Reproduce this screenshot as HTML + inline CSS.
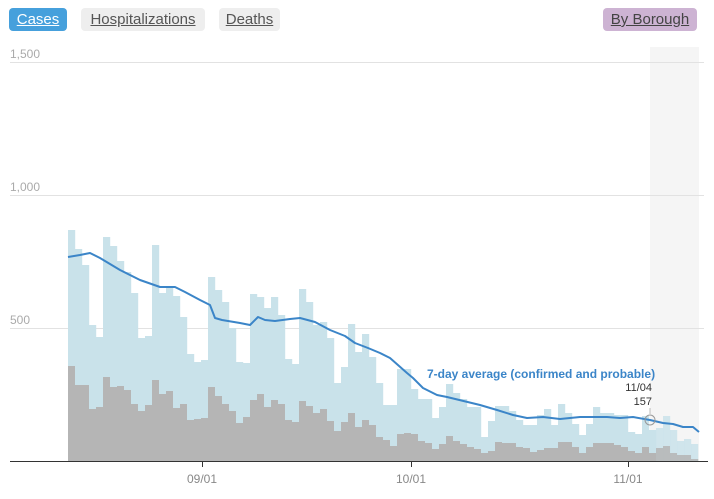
<!DOCTYPE html>
<html><head><meta charset="utf-8"><style>
body{margin:0;background:#fff;font-family:"Liberation Sans",sans-serif;}
.b{position:absolute;top:8px;height:23px;line-height:23px;border-radius:4px;font-size:15px;text-decoration:underline;padding:0 4px;box-sizing:border-box;text-align:center}
</style></head><body>
<div style="position:relative;width:714px;height:499px;overflow:hidden">
<div class="b" style="left:9px;width:58px;background:#46a0dc;color:#fff">Cases</div>
<div class="b" style="left:81px;width:124px;background:#eee;color:#555">Hospitalizations</div>
<div class="b" style="left:219px;width:61px;background:#eee;color:#555">Deaths</div>
<div class="b" style="left:603px;width:94px;background:#cdb3d3;color:#444">By Borough</div>
<svg id="s" width="714" height="499" style="position:absolute;left:0;top:0"></svg>
</div>
<script>
var L=[230,249,265,325,337,237,246,261,272,293,338,336,245,293,287,296,317,354,362,360,277,290,302,328,362,363,294,297,308,297,315,359,364,289,302,325,322,338,383,367,324,352,334,357,383,405,405,369,369,389,399,399,418,407,384,393,399,407,407,437,421,406,406,411,420,425,425,415,409,425,404,413,424,435,424,407,413,413,415,415,432,434,416,430,428,416,430,441,439,444];
var G=[366,385,385,409,407,377,387,386,390,404,411,405,380,394,391,408,404,420,419,418,387,396,404,411,423,417,400,394,407,400,404,420,422,401,406,413,409,421,431,422,413,427,420,425,437,440,446,434,433,434,441,443,449,444,436,441,444,447,449,453,451,442,443,443,447,448,452,450,448,448,442,442,447,453,447,443,443,443,445,447,451,453,447,453,448,446,453,455,455,459];
var s='<rect x="650" y="47" width="49" height="414" fill="#f5f5f5"/>';
[62,195,328].forEach(function(y){s+='<line x1="10" x2="704" y1="'+y+'.5" y2="'+y+'.5" stroke="#e2e2e2"/>';});
s+='<text x="10" y="58" font-size="12" fill="#aaa">1,500</text><text x="10" y="191" font-size="12" fill="#aaa">1,000</text><text x="10" y="324" font-size="12" fill="#aaa">500</text>';
for(var i=0;i<90;i++){var x=68+i*7;var op=x>=650?0.85:1;
s+='<rect x="'+x+'" y="'+L[i]+'" width="7.2" height="'+(461-L[i])+'" fill="#c9e2ea" opacity="'+op+'"/>';
s+='<rect x="'+x+'" y="'+G[i]+'" width="7.2" height="'+(461-G[i])+'" fill="#b5b5b5" opacity="'+op+'"/>';}
var P=[[68,257],[80,255],[90,253],[100,258],[120,270],[140,280],[160,287],[175,287],[185,292],[200,300],[210,305],[215,318],[222,320],[240,323],[250,325],[258,317],[265,320],[275,321],[290,319],[300,318],[315,322],[330,330],[345,336],[355,343],[368,348],[380,353],[390,358],[407,373],[413,378],[423,388],[437,395],[447,397],[480,405],[497,410],[513,415],[527,418],[543,417],[560,419],[580,417],[607,417],[620,418],[633,417],[650,420],[663,423],[673,424],[683,427],[693,427],[699,432]];
s+='<polyline fill="none" stroke="#3b85c8" stroke-width="2" stroke-linejoin="round" points="'+P.map(function(p){return p.join(',')}).join(' ')+'"/>';
s+='<line x1="650" x2="650" y1="408" y2="414" stroke="#bbb"/><circle cx="650" cy="420" r="5" fill="none" stroke="#999"/>';
s+='<text x="427" y="378" font-size="12" font-weight="bold" fill="#3b85c8">7-day average (confirmed and probable)</text>';
s+='<text x="652" y="391" font-size="11" fill="#333" text-anchor="end">11/04</text><text x="652" y="405" font-size="11" fill="#333" text-anchor="end">157</text>';
s+='<line x1="10" x2="708" y1="461.5" y2="461.5" stroke="#333"/>';
[[202,"09/01"],[411,"10/01"],[628,"11/01"]].forEach(function(t){s+='<line x1="'+t[0]+'.5" x2="'+t[0]+'.5" y1="461" y2="467" stroke="#333"/><text x="'+t[0]+'" y="483" font-size="12" fill="#888" text-anchor="middle">'+t[1]+'</text>';});
document.getElementById('s').innerHTML=s;
</script>
</body></html>
